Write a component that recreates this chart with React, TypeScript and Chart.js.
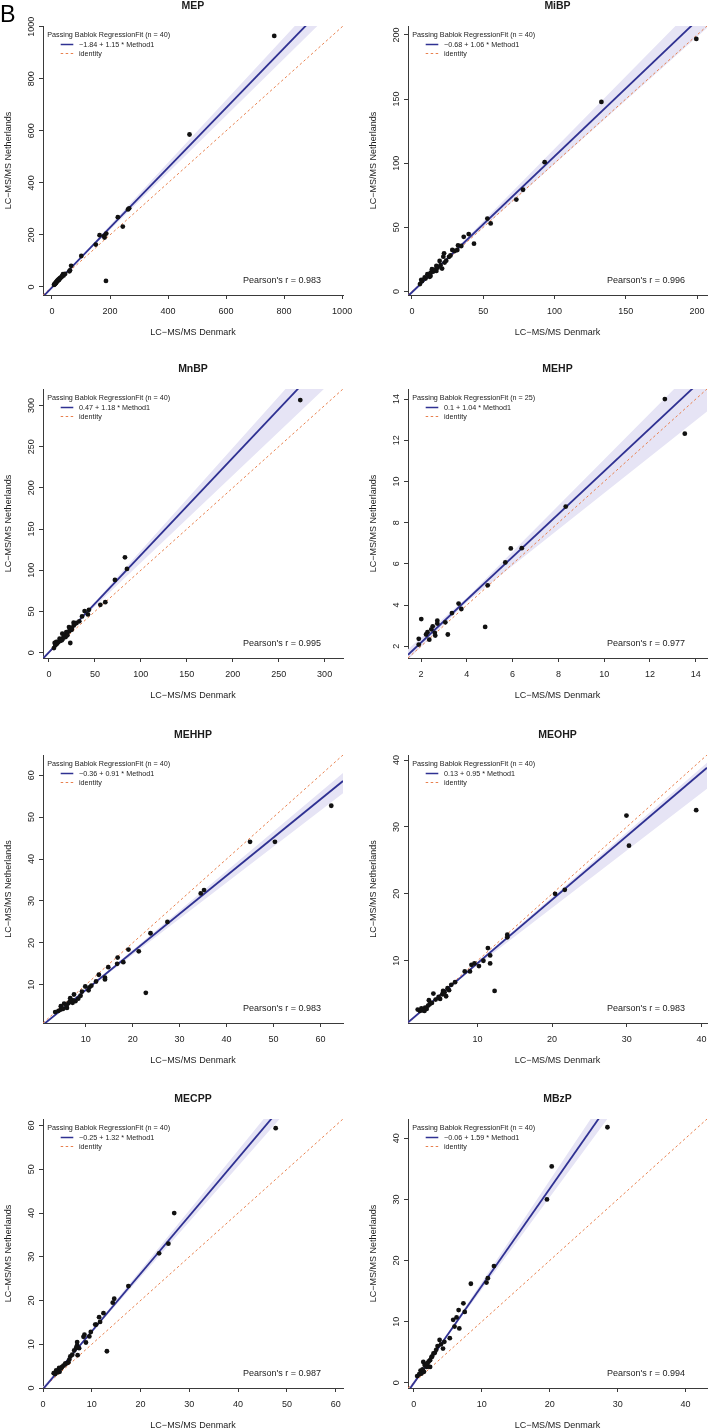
import React, { useEffect, useRef } from "react";
import { Chart, registerables } from "chart.js";

Chart.register(...registerables);

const FONT = '"Liberation Sans", Arial, Helvetica, sans-serif';
const X_TITLE = "LC\u2212MS/MS Denmark";
const Y_TITLE = "LC\u2212MS/MS Netherlands";
const LEGEND_TITLE = "Passing Bablok RegressionFit";
const IDENTITY_LABEL = "identity";

// ---------- MEP ----------
const mepX = [766, 474, 262, 266, 227, 244, 164, 180, 187, 181, 151, 101, 186, 66, 62, 60, 38, 40, 30, 26, 22, 20, 18, 16, 14, 12, 10, 9, 8, 7, 25, 33, 28, 15, 11, 13, 35, 19, 45, 24];
const mepY = [965, 586, 298, 302, 268, 232, 199, 196, 205, 190, 163, 119, 23, 81, 64, 60, 49, 44, 36, 32, 28, 25, 22, 20, 17, 14, 13, 10, 9, 8, 30, 38, 34, 18, 12, 15, 42, 24, 50, 27];
const mepTicks = [0, 200, 400, 600, 800, 1000];
const mepLim = [-31, 1003];
const mepFit = [-1.84, 1.15];
const mepBandX = [-31, 60, 1003];
const mepBandLo = [-41, 66, 1100];
const mepBandHi = [-34, 68.5, 1203];

// ---------- MiBP ----------
const mibpX = [199.5, 132.9, 93.1, 77.9, 73.2, 52.9, 55.2, 39.8, 43.5, 36.3, 32.3, 34.6, 31.8, 28.3, 22.5, 22, 19.4, 22.9, 21.1, 17.1, 17.1, 14, 13.1, 10.8, 12.4, 8.9, 6.5, 5.6, 11.5, 9.5, 15, 13, 7, 16, 18, 20, 24, 26, 30, 27];
const mibpY = [196.9, 147.8, 100.8, 79.3, 71.6, 56.8, 53, 44.7, 37.2, 42.6, 35.9, 35.4, 32.3, 32.3, 29.7, 27.1, 23.8, 22.5, 17.8, 19.9, 16, 17.3, 14.7, 13.4, 11.4, 10.9, 9, 5.7, 12.5, 10, 15.5, 12, 8, 17, 18.5, 20.5, 24, 27, 31.5, 28];
const mibpTicks = [0, 50, 100, 150, 200];
const mibpLim = [-2.8, 207];
const mibpFit = [-0.68, 1.06];
const mibpBandX = [-2.8, 20, 207];
const mibpBandLo = [-5, 20.1, 205.5];
const mibpBandHi = [-2.4, 20.9, 232];

// ---------- MnBP ----------
const mnbpX = [273.5, 82.7, 84.9, 71.8, 61.3, 55.9, 43.5, 38.8, 42.4, 26.8, 21.8, 24.7, 23.2, 18.9, 18.1, 14.5, 11.6, 6.2, 5.4, 8, 7, 9, 10, 12, 13, 15, 16, 17, 19, 20, 22, 23, 25, 27, 28, 30, 33, 36, 20, 14];
const mnbpY = [306.5, 115.7, 101.6, 88.3, 61.3, 58.1, 52, 50.4, 46.4, 36.3, 31, 27.8, 11.7, 25, 19, 23, 16.9, 11.7, 5.6, 12.9, 9, 11, 13, 14, 16, 17, 19, 21, 22, 24, 26, 29, 30, 33, 35, 36, 38, 44, 21, 15];
const mnbpTicks = [0, 50, 100, 150, 200, 250, 300];
const mnbpLim = [-6.5, 320];
const mnbpFit = [0.47, 1.18];
const mnbpBandX = [-6.5, 30, 320];
const mnbpBandLo = [-9, 35.2, 342];
const mnbpBandHi = [-5.6, 36.6, 398];

// ---------- MEHP ----------
const mehpX = [12.65, 13.52, 8.32, 6.4, 5.92, 5.68, 4.91, 4.8, 3.64, 3.76, 3.35, 3.06, 3.17, 2.71, 2.71, 2.01, 2.51, 2.6, 2.62, 2.28, 2.22, 2.36, 1.9, 1.9, 2.45];
const mehpY = [14.0, 12.32, 8.78, 6.76, 6.75, 6.07, 4.96, 2.94, 4.07, 3.81, 3.61, 3.16, 2.57, 3.24, 3.1, 3.32, 2.97, 2.65, 2.52, 2.68, 2.57, 2.32, 2.36, 2.08, 2.82];
const mehpTicks = [2, 4, 6, 8, 10, 12, 14];
const mehpLim = [1.43, 14.49];
const mehpFit = [0.1, 1.04];
const mehpBandX = [1.43, 4, 14.49];
const mehpBandLo = [1.35, 4.15, 13.4];
const mehpBandHi = [1.85, 4.35, 16.1];

// ---------- MEHHP ----------
const mehhpX = [62.3, 50.3, 45.0, 35.2, 34.5, 27.4, 23.8, 22.8, 21.3, 19.1, 18.0, 16.8, 16.7, 14.8, 14.1, 14.1, 12.8, 10.6, 10.8, 9.9, 8.4, 7.5, 7.2, 6.7, 6.0, 5.4, 4.7, 4.7, 3.5, 5.2, 6.3, 7.8, 8.9, 7.3, 9.2, 5.9, 4.2, 11.2, 6.6, 12.2];
const mehhpY = [52.7, 44.1, 44.1, 32.6, 31.8, 25.0, 22.3, 8.1, 18.0, 18.4, 15.4, 16.5, 15.0, 14.2, 11.7, 11.3, 12.4, 8.7, 9.4, 9.6, 6.7, 7.7, 5.7, 6.8, 4.5, 5.5, 4.9, 4.1, 3.5, 4.3, 5.6, 6.1, 7.4, 6.3, 8.4, 5.1, 3.8, 9.8, 6.0, 10.8];
const mehhpTicks = [10, 20, 30, 40, 50, 60];
const mehhpLim = [0.9, 64.8];
const mehhpFit = [-0.36, 0.91];
const mehhpBandX = [0.9, 10, 64.8];
const mehhpBandLo = [0.2, 8.6, 55.7];
const mehhpBandHi = [0.7, 8.9, 60.5];

// ---------- MEOHP ----------
const meohpX = [39.3, 29.96, 30.3, 21.7, 20.4, 14.0, 14.0, 11.4, 11.7, 11.7, 12.3, 10.8, 10.2, 9.2, 9.0, 8.3, 9.6, 6.5, 6.2, 5.8, 5.4, 5.0, 5.3, 4.1, 3.5, 3.6, 3.0, 2.9, 2.3, 2.0, 2.5, 3.2, 3.9, 4.4, 5.6, 6.0, 2.7, 3.4, 7.0, 4.8];
const meohpY = [32.5, 31.7, 27.2, 20.6, 20.0, 13.9, 13.5, 11.9, 10.8, 9.6, 5.5, 10.0, 9.2, 9.4, 8.4, 8.4, 9.6, 6.4, 5.6, 4.7, 5.5, 4.3, 5.0, 5.1, 4.1, 3.5, 3.0, 2.5, 2.5, 2.7, 2.9, 2.8, 3.7, 4.2, 5.3, 5.9, 2.6, 3.3, 6.8, 4.6];
const meohpTicks = [10, 20, 30, 40];
const meohpLim = [0.7, 40.75];
const meohpFit = [0.13, 0.95];
const meohpBandX = [0.7, 8, 40.75];
const meohpBandLo = [0.5, 7.6, 35.7];
const meohpBandHi = [0.95, 7.9, 39.6];

// ---------- MECPP ----------
const mecppX = [47.7, 26.9, 25.7, 23.8, 17.5, 14.6, 14.3, 12.4, 11.7, 11.5, 10.9, 10.7, 13.1, 9.5, 8.5, 8.3, 8.8, 7.0, 7.0, 7.4, 7.1, 6.4, 5.6, 5.2, 4.6, 3.9, 3.3, 2.7, 2.2, 3.4, 4.2, 5.0, 6.0, 2.5, 3.0, 3.7, 4.5, 6.8, 9.8, 5.4];
const mecppY = [59.4, 40.0, 33.0, 30.8, 23.3, 20.4, 19.5, 17.1, 15.1, 16.2, 14.5, 14.5, 8.4, 11.8, 12.2, 11.7, 10.4, 10.5, 9.8, 9.1, 7.5, 8.6, 7.2, 5.9, 5.6, 4.8, 4.6, 4.0, 3.4, 3.7, 5.1, 5.7, 7.6, 3.2, 3.6, 4.5, 5.4, 9.2, 12.8, 6.5];
const mecppTicks = [0, 10, 20, 30, 40, 50, 60];
const mecppLim = [0, 61.5];
const mecppFit = [-0.25, 1.32];
const mecppBandX = [0, 8, 61.5];
const mecppBandLo = [-0.8, 10.1, 78];
const mecppBandHi = [0.3, 10.5, 83.8];

// ---------- MBzP ----------
const mbzpX = [28.5, 19.6, 20.3, 11.8, 10.9, 10.7, 8.4, 7.3, 7.5, 6.6, 6.7, 6.3, 5.8, 6.0, 5.3, 3.8, 3.5, 4.5, 4.3, 2.9, 2.6, 2.4, 2.1, 2.4, 1.4, 1.6, 1.0, 1.1, 0.5, 1.8, 2.2, 1.3, 0.8, 3.1, 2.7, 1.9, 3.3, 1.5, 4.0, 2.0];
const mbzpY = [41.8, 30.0, 35.4, 19.1, 17.1, 16.4, 16.2, 13.0, 11.6, 11.9, 8.9, 10.7, 10.3, 9.2, 7.3, 7.0, 6.0, 6.7, 5.6, 4.8, 4.2, 3.7, 2.7, 2.6, 3.4, 2.9, 2.0, 1.5, 1.1, 3.0, 3.5, 2.2, 1.4, 4.9, 4.3, 2.6, 5.4, 1.8, 6.3, 3.2];
const mbzpTicks = [0, 10, 20, 30, 40];
const mbzpLim = [-0.85, 43.15];
const mbzpFit = [-0.06, 1.59];
const mbzpBandX = [-0.85, 5, 43.15];
const mbzpBandLo = [-1.8, 7.7, 65.3];
const mbzpBandHi = [-1.0, 8.1, 71.7];

const panelNames = ["MEP", "MiBP", "MnBP", "MEHP", "MEHHP", "MEOHP", "MECPP", "MBzP"];
const panelN = [40, 40, 40, 25, 40, 40, 40, 40];
const panelR = ["0.983", "0.996", "0.995", "0.977", "0.983", "0.983", "0.987", "0.994"];

const PANELS = [
  { x: mepX, y: mepY, ticks: mepTicks, lim: mepLim, fit: mepFit, bx: mepBandX, lo: mepBandLo, hi: mepBandHi },
  { x: mibpX, y: mibpY, ticks: mibpTicks, lim: mibpLim, fit: mibpFit, bx: mibpBandX, lo: mibpBandLo, hi: mibpBandHi },
  { x: mnbpX, y: mnbpY, ticks: mnbpTicks, lim: mnbpLim, fit: mnbpFit, bx: mnbpBandX, lo: mnbpBandLo, hi: mnbpBandHi },
  { x: mehpX, y: mehpY, ticks: mehpTicks, lim: mehpLim, fit: mehpFit, bx: mehpBandX, lo: mehpBandLo, hi: mehpBandHi },
  { x: mehhpX, y: mehhpY, ticks: mehhpTicks, lim: mehhpLim, fit: mehhpFit, bx: mehhpBandX, lo: mehhpBandLo, hi: mehhpBandHi },
  { x: meohpX, y: meohpY, ticks: meohpTicks, lim: meohpLim, fit: meohpFit, bx: meohpBandX, lo: meohpBandLo, hi: meohpBandHi },
  { x: mecppX, y: mecppY, ticks: mecppTicks, lim: mecppLim, fit: mecppFit, bx: mecppBandX, lo: mecppBandLo, hi: mecppBandHi },
  { x: mbzpX, y: mbzpY, ticks: mbzpTicks, lim: mbzpLim, fit: mbzpFit, bx: mbzpBandX, lo: mbzpBandLo, hi: mbzpBandHi },
];

// ---------- layout / style ----------
const COL_LEFT = [43, 408];
const COL_RIGHT = [343, 707];
const ROW_TOP = [26, 389, 755, 1119];
const ROW_BOTTOM = [295, 658, 1023, 1388];
const CANVAS_W = 357;
const TOP_PAD = 26;
const X_AXIS_H = 44;

const TEXT_COLOR = "#1c1c1c";
const AXIS_COLOR = "#3a3a3a";
const REG_COLOR = "#2f3192";
const ID_COLOR = "rgb(232,128,78)";
const BAND_COLOR = "rgb(230,228,245)";

function fitLabel(fit: number[]) {
  const a = fit[0];
  const b = fit[1];
  return `${a < 0 ? "\u2212" : ""}${Math.abs(a)} + ${b} * Method1`;
}

function drawTexts(chart: any, idx: number) {
  const p = PANELS[idx];
  const { ctx, chartArea: a, scales } = chart;
  const cx = (a.left + a.right) / 2;
  const cy = (a.top + a.bottom) / 2;
  ctx.save();
  ctx.fillStyle = TEXT_COLOR;

  // title
  ctx.font = `bold 10.5px ${FONT}`;
  ctx.textAlign = "center";
  ctx.textBaseline = "alphabetic";
  ctx.fillText(panelNames[idx], cx, a.top - 16.7);

  // x tick labels
  ctx.font = `9px ${FONT}`;
  for (const v of p.ticks) {
    const px = scales.x.getPixelForValue(v);
    ctx.fillText(String(v), px, a.bottom + 19.2);
  }
  // y tick labels (rotated)
  for (const v of p.ticks) {
    const py = scales.y.getPixelForValue(v);
    ctx.save();
    ctx.translate(a.left - 9.3, py);
    ctx.rotate(-Math.PI / 2);
    ctx.fillText(String(v), 0, 0);
    ctx.restore();
  }
  // axis titles
  ctx.fillText(X_TITLE, cx, a.bottom + 39.7);
  ctx.save();
  ctx.translate(a.left - 32.5, cy);
  ctx.rotate(-Math.PI / 2);
  ctx.fillText(Y_TITLE, 0, 0);
  ctx.restore();

  // legend
  ctx.font = `7.2px ${FONT}`;
  ctx.textAlign = "left";
  ctx.fillText(`${LEGEND_TITLE} (n = ${panelN[idx]})`, a.left + 4.3, a.top + 10.8);
  ctx.fillText(fitLabel(p.fit), a.left + 36, a.top + 21.1);
  ctx.fillText(IDENTITY_LABEL, a.left + 36, a.top + 30.1);
  ctx.strokeStyle = REG_COLOR;
  ctx.lineWidth = 1.5;
  ctx.beginPath();
  ctx.moveTo(a.left + 17.7, a.top + 18.5);
  ctx.lineTo(a.left + 30.3, a.top + 18.5);
  ctx.stroke();
  ctx.strokeStyle = ID_COLOR;
  ctx.lineWidth = 1;
  ctx.setLineDash([2.5, 2.5]);
  ctx.beginPath();
  ctx.moveTo(a.left + 17.7, a.top + 27.5);
  ctx.lineTo(a.left + 30.3, a.top + 27.5);
  ctx.stroke();
  ctx.setLineDash([]);

  // Pearson
  ctx.font = `9px ${FONT}`;
  ctx.textAlign = "right";
  ctx.fillText(`Pearson's r = ${panelR[idx]}`, a.right - 22, a.bottom - 11.9);

  // panel letter
  if (idx === 0) {
    ctx.font = `23.3px ${FONT}`;
    ctx.textAlign = "left";
    ctx.fillStyle = "#000";
    ctx.fillText("B", 0, 21.7);
  }
  ctx.restore();
}

function Panel({ idx }: { idx: number }) {
  const ref = useRef<HTMLCanvasElement>(null);
  const col = idx % 2;
  const row = Math.floor(idx / 2);
  const left = col * CANVAS_W;
  const top = ROW_TOP[row] - TOP_PAD;
  const h = ROW_BOTTOM[row] - ROW_TOP[row] + TOP_PAD + X_AXIS_H;
  const yAxisW = COL_LEFT[col] - left;
  const padR = left + CANVAS_W - COL_RIGHT[col];

  useEffect(() => {
    const p = PANELS[idx];
    const [a, b] = p.fit;
    const [lo, hi] = p.lim;
    const tickObjs = () => p.ticks.map((v) => ({ value: v }));
    const chart = new Chart(ref.current as HTMLCanvasElement, {
      type: "scatter",
      data: {
        datasets: [
          {
            type: "scatter",
            data: p.x.map((v, i) => ({ x: v, y: p.y[i] })),
            pointRadius: 2.4,
            pointBackgroundColor: "#111",
            pointBorderWidth: 0,
            pointBorderColor: "#111",
            order: 0,
          } as any,
          {
            type: "line",
            data: [
              { x: lo, y: a + b * lo },
              { x: hi, y: a + b * hi },
            ],
            borderColor: REG_COLOR,
            borderWidth: 1.8,
            pointRadius: 0,
            fill: false,
            order: 1,
          },
          {
            type: "line",
            data: [
              { x: lo, y: lo },
              { x: hi, y: hi },
            ],
            borderColor: ID_COLOR,
            borderWidth: 1,
            borderDash: [2.5, 2.5],
            pointRadius: 0,
            fill: false,
            order: 2,
          },
          {
            type: "line",
            data: p.bx.map((v, i) => ({ x: v, y: p.lo[i] })),
            borderWidth: 0,
            borderColor: "rgba(0,0,0,0)",
            pointRadius: 0,
            fill: false,
            order: 4,
          },
          {
            type: "line",
            data: p.bx.map((v, i) => ({ x: v, y: p.hi[i] })),
            borderWidth: 0,
            borderColor: "rgba(0,0,0,0)",
            backgroundColor: BAND_COLOR,
            pointRadius: 0,
            fill: "-1",
            order: 3,
          },
        ],
      },
      options: {
        responsive: false,
        animation: false,
        devicePixelRatio: 1,
        events: [],
        layout: { padding: { left: 0, right: padR, top: TOP_PAD, bottom: 0 } },
        plugins: {
          legend: { display: false },
          tooltip: { enabled: false },
          title: { display: false },
        },
        scales: {
          x: {
            type: "linear",
            position: "bottom",
            min: lo,
            max: hi,
            grid: { drawOnChartArea: false, drawTicks: true, tickLength: 4, color: AXIS_COLOR, lineWidth: 1 },
            border: { display: true, color: AXIS_COLOR, width: 1 },
            ticks: { display: false },
            afterBuildTicks: (s: any) => {
              s.ticks = tickObjs();
            },
            afterFit: (s: any) => {
              s.height = X_AXIS_H;
              s.paddingLeft = 0;
              s.paddingRight = 0;
            },
          },
          y: {
            type: "linear",
            position: "left",
            min: lo,
            max: hi,
            grid: { drawOnChartArea: false, drawTicks: true, tickLength: 4, color: AXIS_COLOR, lineWidth: 1 },
            border: { display: true, color: AXIS_COLOR, width: 1 },
            ticks: { display: false },
            afterBuildTicks: (s: any) => {
              s.ticks = tickObjs();
            },
            afterFit: (s: any) => {
              s.width = yAxisW;
              s.paddingTop = 0;
              s.paddingBottom = 0;
            },
          },
        },
      } as any,
      plugins: [
        {
          id: "panelText" + idx,
          afterDraw: (c: any) => drawTexts(c, idx),
        },
      ],
    });
    return () => chart.destroy();
  }, []);

  return (
    <div style={{ position: "absolute", left, top, width: CANVAS_W, height: h }}>
      <canvas ref={ref} width={CANVAS_W} height={h} />
    </div>
  );
}

export default function App() {
  return (
    <div
      style={{
        position: "absolute",
        left: 0,
        top: 0,
        width: 714,
        height: 1428,
        overflow: "hidden",
        background: "#fff",
      }}
    >
      {PANELS.map((_, i) => (
        <Panel key={i} idx={i} />
      ))}
    </div>
  );
}
